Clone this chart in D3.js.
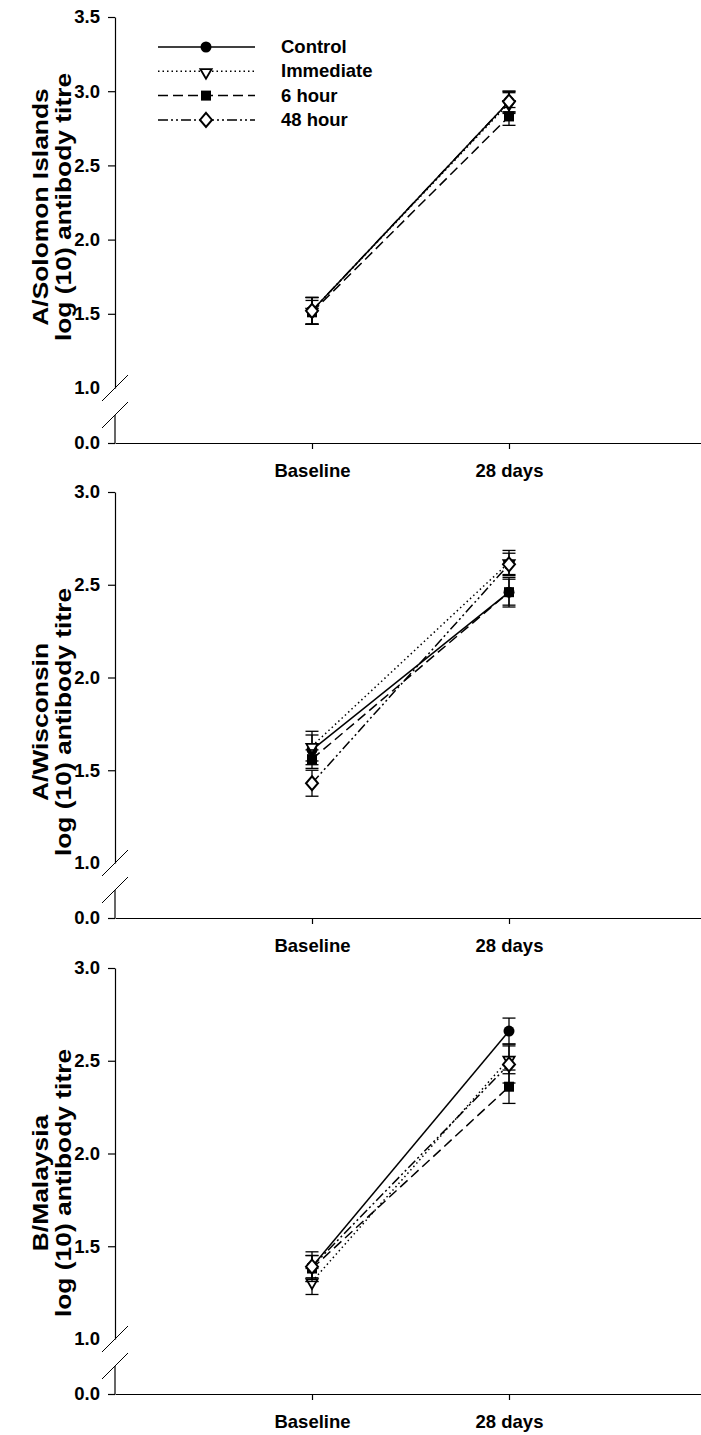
<!DOCTYPE html>
<html>
<head>
<meta charset="utf-8">
<script src="https://cdn.jsdelivr.net/npm/d3@7"></script>
<style>
  body { margin: 0; background: #fff; }
  text { font-family: "Liberation Sans", Arial, sans-serif; font-weight: bold; }
</style>
</head>
<body>
<div id="main"></div>
<script>
const ctx = {
    w: 701,
    h: 1435,
    axisX: 115,
    panelTops: [17, 492, 968],
    upperH: 371,
    lowerH: 55,
    breakGap: 27,
    titleMid: [207, 722, 1183]
};

// categories on the x axis
const categories = ["Baseline", "28 days"];
const seriesNames = ["Control", "Immediate", "6 hour", "48 hour"];
const panelTitles = ["A/Solomon Islands", "A/Wisconsin", "B/Malaysia"];
const yMax = [3.5, 3.0, 3.0];
const yTickValues = [
    [1.0, 1.5, 2.0, 2.5, 3.0, 3.5],
    [1.0, 1.5, 2.0, 2.5, 3.0],
    [1.0, 1.5, 2.0, 2.5, 3.0]
];

// mean log titre, per series: [Baseline, 28 days]
const solomonMean = [[1.52, 2.93], [1.52, 2.92], [1.51, 2.83], [1.52, 2.93]];
const solomonErr  = [[0.09, 0.07], [0.09, 0.07], [0.08, 0.06], [0.09, 0.07]];
const wisconsinMean = [[1.61, 2.46], [1.63, 2.62], [1.56, 2.46], [1.43, 2.61]];
const wisconsinErr  = [[0.08, 0.08], [0.08, 0.065], [0.05, 0.07], [0.07, 0.06]];
const malaysiaMean = [[1.39, 2.66], [1.31, 2.51], [1.38, 2.36], [1.39, 2.48]];
const malaysiaErr  = [[0.08, 0.07], [0.07, 0.08], [0.07, 0.09], [0.06, 0.10]];

const panelMeans = [solomonMean, wisconsinMean, malaysiaMean];
const panelErrs = [solomonErr, wisconsinErr, malaysiaErr];

// line style per series
const dashes = [null, "1.5,3", "10,5", "10,3,2,3,2,3"];

function drawMarker(g, i, x, y) {
    if (i === 0) {
        g.append("circle").attr("cx", x).attr("cy", y).attr("r", 5.5).attr("fill", "#000");
    } else if (i === 1) {
        g.append("path")
            .attr("d", d3.symbol().type(d3.symbolTriangle).size(55)())
            .attr("transform", `translate(${x},${y + 1}) rotate(180)`)
            .attr("fill", "#fff").attr("stroke", "#000").attr("stroke-width", 1.8);
    } else if (i === 2) {
        g.append("rect").attr("x", x - 5).attr("y", y - 5).attr("width", 10).attr("height", 10).attr("fill", "#000");
    } else {
        g.append("path")
            .attr("d", `M${x},${y - 7}L${x + 6},${y}L${x},${y + 7}L${x - 6},${y}Z`)
            .attr("fill", "#fff").attr("stroke", "#000").attr("stroke-width", 2);
    }
}

function drawPanel(svg, p) {
    const top = ctx.panelTops[p];
    const y1 = top + ctx.upperH;           // position of 1.0
    const y0 = y1 + ctx.lowerH;            // position of 0.0
    const g = svg.append("g").attr("class", "panel");

    const x = d3.scaleLinear().domain([0, 3]).range([ctx.axisX, 706]);
    const y = d3.scaleLinear().domain([1, yMax[p]]).range([y1, top]);
    const yLow = d3.scaleLinear().domain([0, 1]).range([y0, y1]);

    // upper y axis
    const yAxisG = g.append("g")
        .attr("transform", `translate(${ctx.axisX},0)`)
        .call(d3.axisLeft(y).tickValues(yTickValues[p]).tickFormat(d3.format(".1f")).tickSize(7).tickSizeOuter(0).tickPadding(8));
    yAxisG.selectAll(".tick").filter(d => d === 1).select("line").remove();

    // lower y axis segment (0.0)
    g.append("g")
        .attr("transform", `translate(${ctx.axisX},0)`)
        .call(d3.axisLeft(yLow).tickValues([0]).tickFormat(d3.format(".1f")).tickSize(7).tickSizeOuter(0).tickPadding(8))
        .select(".domain").attr("d", `M0,${y1 + ctx.breakGap}V${y0}`);

    g.selectAll(".tick text").attr("font-size", 18.5).attr("font-weight", "bold").attr("fill", "#000")
        .attr("font-family", "Liberation Sans, Arial, sans-serif");
    g.selectAll(".domain, .tick line").attr("stroke", "#000").attr("stroke-width", 1.2);

    // axis break marks
    [y1, y1 + ctx.breakGap].forEach(yb => {
        g.append("line")
            .attr("x1", ctx.axisX - 13).attr("y1", yb + 13)
            .attr("x2", ctx.axisX + 13).attr("y2", yb - 13)
            .attr("stroke", "#000").attr("stroke-width", 1);
    });

    // x axis
    const xAxisG = g.append("g")
        .attr("transform", `translate(0,${y0})`)
        .call(d3.axisBottom(x).tickValues([1, 2]).tickFormat(d => categories[d - 1]).tickSize(6).tickSizeOuter(0).tickPadding(15));
    xAxisG.selectAll("text").attr("font-size", 18.5).attr("font-weight", "bold").attr("fill", "#000")
        .attr("font-family", "Liberation Sans, Arial, sans-serif");
    xAxisG.selectAll(".domain, .tick line").attr("stroke", "#000").attr("stroke-width", 1.2);

    // y title, two lines
    const title = g.append("text")
        .attr("transform", `translate(48,${ctx.titleMid[p]}) rotate(-90) scale(1.2,1)`)
        .attr("text-anchor", "middle")
        .attr("font-size", 22);
    title.append("tspan").attr("x", 0).attr("dy", 0).text(panelTitles[p]);
    title.append("tspan").attr("x", 0).attr("dy", 23).text("log (10) antibody titre");

    // series
    const means = panelMeans[p];
    const errs = panelErrs[p];
    const line = d3.line().x((d, j) => x(j + 1)).y(d => y(d));
    means.forEach((m, i) => {
        const sg = g.append("g").attr("class", "series");
        sg.append("path")
            .attr("d", line(m))
            .attr("fill", "none").attr("stroke", "#000").attr("stroke-width", 1.5)
            .attr("stroke-dasharray", dashes[i]);
        m.forEach((v, j) => {
            const cx = x(j + 1);
            const e = errs[i][j];
            sg.append("line").attr("x1", cx).attr("x2", cx).attr("y1", y(v - e)).attr("y2", y(v + e))
                .attr("stroke", "#000").attr("stroke-width", 1.3);
            [v - e, v + e].forEach(c => {
                sg.append("line").attr("x1", cx - 6.5).attr("x2", cx + 6.5).attr("y1", y(c)).attr("y2", y(c))
                    .attr("stroke", "#000").attr("stroke-width", 1.3);
            });
            drawMarker(sg, i, cx, y(v));
        });
    });

    // legend on the first panel only
    if (p === 0) {
        const lg = g.append("g").attr("class", "legend");
        seriesNames.forEach((name, i) => {
            const ly = 47 + i * 24.3;
            lg.append("line").attr("x1", 158).attr("x2", 255).attr("y1", ly).attr("y2", ly)
                .attr("stroke", "#000").attr("stroke-width", 1.5).attr("stroke-dasharray", dashes[i]);
            drawMarker(lg, i, 206, ly);
            lg.append("text").attr("x", 281).attr("y", ly + 6).attr("font-size", 18.5).text(name);
        });
    }
}

function createViz() {
    const svgEl = d3.select("#main").append("svg")
        .attr("width", ctx.w)
        .attr("height", ctx.h);
    for (let p = 0; p < 3; p++) drawPanel(svgEl, p);
}

createViz();
</script>
</body>
</html>
